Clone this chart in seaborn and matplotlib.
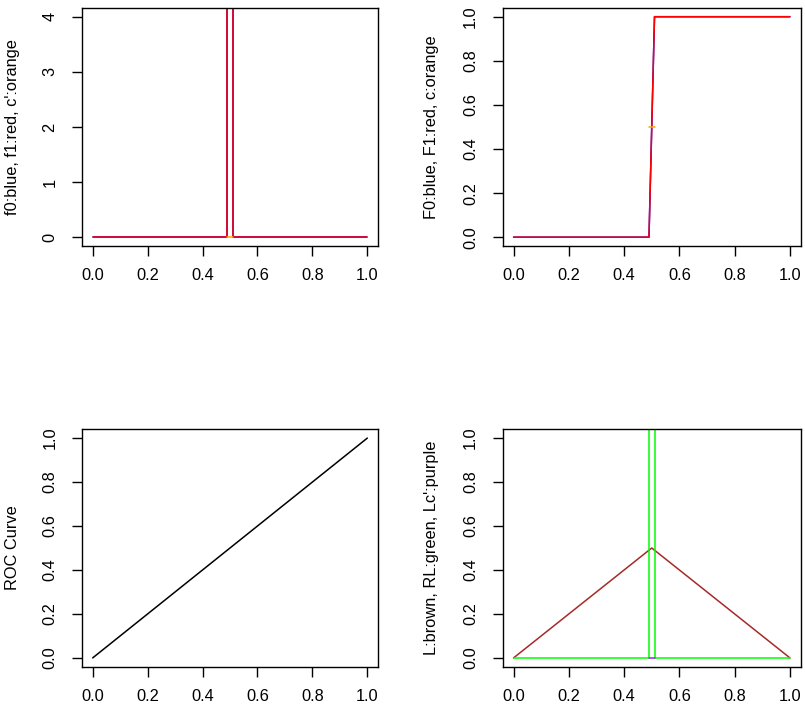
import matplotlib
matplotlib.use("Agg")
import matplotlib.pyplot as plt
import seaborn as sns

# densities f0 / f1 (spike on [0.49, 0.51]) and the c' piece
dens_x = [0.0, 0.49, 0.49, 0.51, 0.51, 1.0]
f0_vals = [0, 0, 50, 50, 0, 0]
f1_vals = [0, 0, 50, 50, 0, 0]
cp_x = [0.49, 0.51]
cp_y = [0.0, 0.0]

# distribution functions F0 / F1 and c
cdf_x = [0.0, 0.49, 0.51, 1.0]
F0_vals = [0, 0, 1, 1]
F1_vals = [0, 0, 1, 1]
c_x = [0.49, 0.51]
c_y = [0.5, 0.5]

# ROC curve
roc_x = [0.0, 1.0]
roc_y = [0.0, 1.0]

# L, RL, Lc'
L_x = [0.0, 0.5, 1.0]
L_y = [0.0, 0.5, 0.0]
RL_x = [0.0, 0.49, 0.49, 0.51, 0.51, 1.0]
RL_y = [0, 0, 50, 50, 0, 0]
Lc_x = [0.49, 0.51]
Lc_y = [0.0, 0.0]

x_ticks = [0.0, 0.2, 0.4, 0.6, 0.8, 1.0]
unit_ticks = [0.0, 0.2, 0.4, 0.6, 0.8, 1.0]
dens_ticks = [0, 1, 2, 3, 4]

sns.set_style("ticks")
plt.rcParams["font.family"] = ["Liberation Sans", "DejaVu Sans"]
plt.rcParams["text.color"] = "black"
plt.rcParams["axes.labelcolor"] = "black"
plt.rcParams["xtick.color"] = "black"
plt.rcParams["ytick.color"] = "black"
fs = 11.8

fig = plt.figure(figsize=(8.05, 7.15), dpi=100)
W, H = 805.0, 715.0


def make_ax(left, right, top, bottom):
    return fig.add_axes([left / W, 1 - bottom / H, (right - left) / W, (bottom - top) / H])


def line(ax, x, y, color):
    sns.lineplot(x=x, y=y, ax=ax, color=color, lw=1.1, sort=False, estimator=None)


def style(ax, yticks, ylabels, ylim, label, lab_x):
    ax.set_xlim(-0.04, 1.04)
    ax.set_ylim(*ylim)
    ax.set_xticks(x_ticks)
    ax.set_xticklabels([f"{v:.1f}" for v in x_ticks], fontsize=fs)
    ax.set_yticks(yticks)
    ax.set_yticklabels(ylabels, fontsize=fs, rotation=90, va="center")
    ax.tick_params(axis="x", direction="out", length=7.2, width=1.0, colors="black", pad=8.6)
    ax.tick_params(axis="y", direction="out", length=7.2, width=1.0, colors="black", pad=10.4)
    for s in ax.spines.values():
        s.set_visible(True)
        s.set_color("black")
        s.set_linewidth(1.0)
    ax.set_xlabel("")
    ax.set_ylabel(label, fontsize=fs, color="black")
    ax.yaxis.label.set_va("center")
    ax.yaxis.set_label_coords(lab_x, 0.5)


ax1 = make_ax(81.7, 378.3, 7.9, 246.0)
line(ax1, dens_x, f0_vals, "blue")
line(ax1, dens_x, f1_vals, "red")
line(ax1, cp_x, cp_y, "orange")
style(ax1, dens_ticks, [str(v) for v in dens_ticks], (-0.16, 4.16),
      "f0:blue, f1:red, c':orange", -0.232)

ax2 = make_ax(502.5, 801.0, 7.9, 246.0)
line(ax2, cdf_x, F0_vals, "blue")
line(ax2, cdf_x, F1_vals, "red")
line(ax2, c_x, c_y, "orange")
style(ax2, unit_ticks, [f"{v:.1f}" for v in unit_ticks], (-0.04, 1.04),
      "F0:blue, F1:red, c:orange", -0.237)

ax3 = make_ax(81.7, 378.3, 429.3, 666.7)
line(ax3, roc_x, roc_y, "black")
style(ax3, unit_ticks, [f"{v:.1f}" for v in unit_ticks], (-0.04, 1.04),
      "ROC Curve", -0.232)

ax4 = make_ax(502.5, 801.0, 429.3, 666.7)
line(ax4, L_x, L_y, "brown")
line(ax4, RL_x, RL_y, "#00FF00")
line(ax4, Lc_x, Lc_y, "#A020F0")
style(ax4, unit_ticks, [f"{v:.1f}" for v in unit_ticks], (-0.04, 1.04),
      "L:brown, RL:green, Lc':purple", -0.237)

fig.savefig("out.png", dpi=100)
